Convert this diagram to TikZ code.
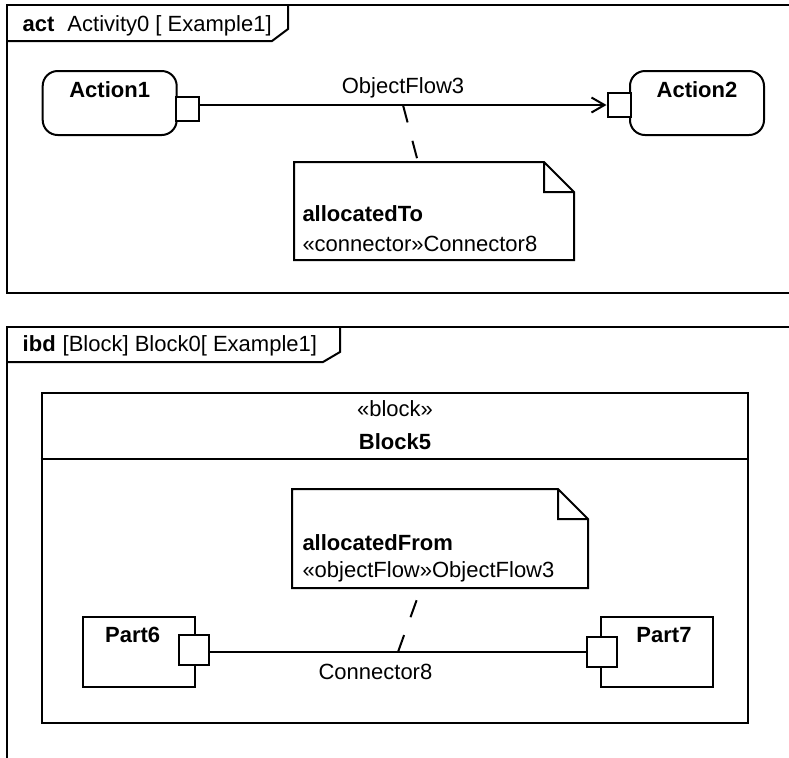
\documentclass[tikz,border=0pt]{standalone}
\usepackage{fontspec}
\setmainfont{Liberation Sans}
\usetikzlibrary{arrows.meta, positioning}

\begin{document}
\begin{tikzpicture}[
				x=0.5pt, y=-0.5pt,
				line width=1pt,
				font=\fontsize{11}{13}\selectfont,
				bold/.style={font=\fontsize{11}{13}\selectfont\bfseries},
				actbox/.style={draw, rectangle, rounded corners=7.5pt, minimum width=67pt, inner sep=0pt, text height=13pt, text depth=19pt, bold},
				pinbox/.style={draw, rectangle, fill=white, inner sep=0pt},
				partbox/.style={draw, rectangle, minimum width=56.2pt, minimum height=35.3pt, inner sep=0pt},
				notebox/.style={rectangle, minimum width=139pt, minimum height=48pt, inner sep=0pt},
				txt/.style={inner sep=0pt, anchor=base west},
				ctxt/.style={inner sep=0pt, anchor=base},
				flow/.style={-{Straight Barb[length=6.5pt, width=7.5pt]}},
				anchorline/.style={dash pattern=on 9pt off 9.5pt}
				]
				
				\useasboundingbox (0,0) rectangle (789,757);
				\clip (0,0) rectangle (789,757);
				
				% Activity frame
				\draw (800,5) -- (7,5) -- (7,293) -- (800,293);
				\draw (7,41) -- (272,41) -- (288,29) -- (288,5);
				\node[txt] (actname) at (21.7,31.5) {\textbf{act}\hspace{6.5pt}Activity0 [ Example1]};
				
				% Actions with pins
				\node[actbox, anchor=north] (action1) at (109.7,70) {Action1};
				\node[actbox, anchor=north] (action2) at (697,70) {Action2};
				\node[pinbox, minimum width=11.5pt, minimum height=12pt] (pin1) at (187,109) {};
				\node[pinbox, minimum width=11.5pt, minimum height=12pt] (pin2) at (619,105) {};
				
				% Object flow
				\draw[flow] (pin1.east |- pin2.west) -- (pin2.west)
				node[ctxt, midway, yshift=6pt] (flowlbl) {ObjectFlow3}
				coordinate[midway] (flowmid);
				
				% Note on the flow
				\node[notebox] (noteTo) at (434,211) {};
				\node[txt] (noteToA) at (301.5,221.7) {\textbf{allocatedTo}};
				\node[txt] (noteToB) at (301.5,251.7) {«connector»Connector8};
				\draw[anchorline] (flowmid) -- ([xshift=-8pt]noteTo.north);
				
				% Block frame
				\draw (800,327) -- (7,327) -- (7,765);
				\draw (7,362) -- (323,362) -- (340,352) -- (340,327);
				\node[txt] (ibdname) at (21.7,351) {\textbf{ibd}\hspace{3.5pt}[Block] Block0[ Example1]};
				
				% Block5
				\node[draw, rectangle, inner sep=0pt, minimum width=353.3pt, minimum height=164.7pt] (block5) at (395,558) {};
				\coordinate (cmp) at (0,459);
				\draw (block5.west |- cmp) -- (block5.east |- cmp);
				\node[ctxt] (blkstereo) at (395,416.7) {«block»};
				\node[ctxt, bold] (blkname) at (395,449) {Block5};
				
				% Parts with ports
				\node[partbox] (part6) at (138.9,652) {};
				\node[partbox] (part7) at (657,652) {};
				\node[ctxt, bold] (part6name) at (132.7,642.7) {Part6};
				\node[ctxt, bold] (part7name) at (664,642.7) {Part7};
				\node[pinbox, minimum size=15pt] (pin6) at (194,649.7) {};
				\node[pinbox, minimum size=15pt] (pin7) at (602,652) {};
				
				% Connector
				\draw (pin6.east |- pin7.west) -- (pin7.west)
				node[ctxt, pos=0.44, yshift=-13.5pt] (conlbl) {Connector8}
				coordinate[midway] (conmid);
				
				% Note on the connector
				\node[notebox, minimum width=147pt, minimum height=48.5pt] (noteFrom) at (440,538.5) {};
				\node[txt] (noteFromA) at (301.5,550) {\textbf{allocatedFrom}};
				\node[txt] (noteFromB) at (301.5,577) {«objectFlow»ObjectFlow3};
				\draw[anchorline] (conmid) -- ([xshift=-9.5pt]noteFrom.south);
				
				% Folded corners
				\foreach \n in {noteTo,noteFrom}
				\draw (\n.south west) -- (\n.north west) -- ([xshift=-15pt]\n.north east)
				-- ([yshift=-15pt]\n.north east) -- (\n.south east) -- cycle
				([xshift=-15pt]\n.north east) |- ([yshift=-15pt]\n.north east);
				
			\end{tikzpicture}
\end{document}
